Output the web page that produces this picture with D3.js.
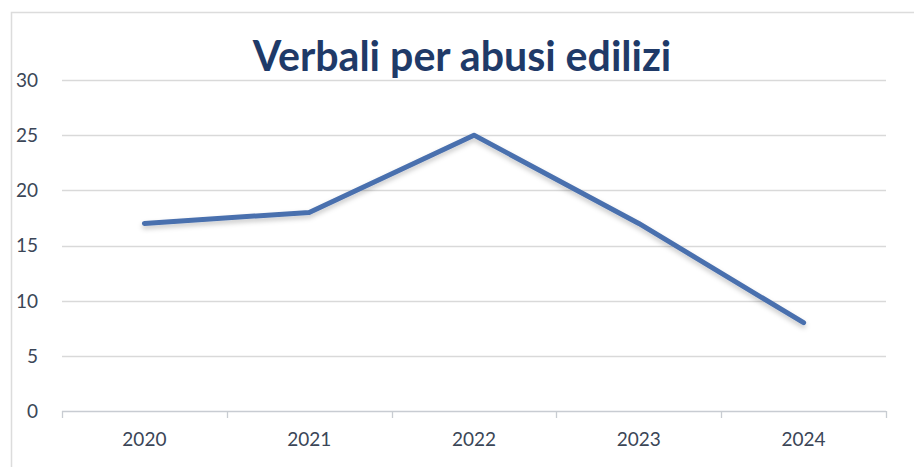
<!DOCTYPE html>
<html>
<head>
<meta charset="utf-8">
<script src="https://cdn.jsdelivr.net/npm/d3@7"></script>
<style>
  body { margin: 0; background: #fff; }
  svg { display: block; }
</style>
</head>
<body>
<div id="mainGraphic"></div>
<script>
let svgWidth = 914
let svgHeight = 467

// data
let years = ["2020", "2021", "2022", "2023", "2024"]
let verbali = [17, 18, 25, 17, 8]
let yTicks = [0, 5, 10, 15, 20, 25, 30]
let chartTitle = "Verbali per abusi edilizi"

renderLine();

function renderLine(){
  let graphic = d3.select("#mainGraphic")
    .append("svg")
      .attr("width", svgWidth)
      .attr("height", svgHeight)

  // soft shadow under the line, like the office chart
  let shadow = graphic.append("defs").append("filter")
      .attr("id", "lineShadow")
      .attr("x", "-5%").attr("y", "-20%")
      .attr("width", "110%").attr("height", "150%")
  shadow.append("feDropShadow")
      .attr("dx", 0).attr("dy", 3)
      .attr("stdDeviation", 2.5)
      .attr("flood-color", "#000")
      .attr("flood-opacity", 0.22)

  // chart area border (left and top visible)
  graphic.append("path")
      .attr("d", "M11.5,467 V12.5 H914")
      .attr("fill", "none")
      .attr("stroke", "#dcdcdc")
      .attr("stroke-width", 1.5)

  let x = d3.scaleBand()
    .domain(years)
    .range([62, 886])

  let y = d3.scaleLinear()
    .domain([0, 30])
    .range([411, 80])

  let labelFont = "Lato, 'Open Sans', sans-serif"
  let labelColor = "#3b4657"

  // gridlines
  graphic.append("g")
    .selectAll("line")
    .data(yTicks.filter(d => d > 0))
    .enter()
    .append("line")
      .attr("x1", 62)
      .attr("x2", 886)
      .attr("y1", d => Math.round(y(d)) + 0.5)
      .attr("y2", d => Math.round(y(d)) + 0.5)
      .attr("stroke", "#d9d9d9")
      .attr("stroke-width", 1.3)

  // y labels
  graphic.append("g")
    .selectAll("text")
    .data(yTicks)
    .enter()
    .append("text")
      .attr("x", 38)
      .attr("y", d => y(d))
      .attr("dy", "0.36em")
      .attr("text-anchor", "end")
      .style("font-family", labelFont)
      .style("font-size", "19px")
      .style("fill", labelColor)
      .text(d => d)

  // x axis with ticks between categories
  let xAxis = d3.axisBottom(x).tickSize(0).tickPadding(22)
  let xg = graphic.append("g")
      .attr("transform", "translate(0,411)")
      .call(xAxis)
  xg.select(".domain").remove()
  xg.selectAll("text")
      .style("font-family", labelFont)
      .style("font-size", "19px")
      .style("fill", labelColor)

  xg.append("line")
      .attr("x1", 62).attr("x2", 886)
      .attr("y1", 0.5).attr("y2", 0.5)
      .attr("stroke", "#c8ccd2")
      .attr("stroke-width", 1.3)

  let boundaries = years.map(d => x(d)).concat([x.range()[1]])
  xg.selectAll(".bound")
    .data(boundaries)
    .enter()
    .append("line")
      .attr("class", "bound")
      .attr("x1", d => Math.round(d) + 0.5)
      .attr("x2", d => Math.round(d) + 0.5)
      .attr("y1", 0)
      .attr("y2", 7)
      .attr("stroke", "#c8ccd2")
      .attr("stroke-width", 1.3)

  // the series
  let line = d3.line()
    .x((d, i) => x(years[i]) + x.bandwidth() / 2)
    .y(d => y(d))

  graphic.append("path")
      .datum(verbali)
      .attr("d", line)
      .attr("fill", "none")
      .attr("stroke", "#4a70ae")
      .attr("stroke-width", 5)
      .attr("stroke-linejoin", "round")
      .attr("stroke-linecap", "round")
      .attr("filter", "url(#lineShadow)")

  // title, fitted to the width seen in the picture
  let title = graphic.append("text")
      .attr("x", 462)
      .attr("y", 71)
      .attr("text-anchor", "middle")
      .style("font-family", "Lato, 'Open Sans', sans-serif")
      .style("font-weight", "bold")
      .style("font-size", "37px")
      .style("fill", "#1f3a68")
      .text(chartTitle)
  let w = title.node().getComputedTextLength()
  title.style("font-size", (37 * 419 / w).toFixed(1) + "px")
}
</script>
</body>
</html>
